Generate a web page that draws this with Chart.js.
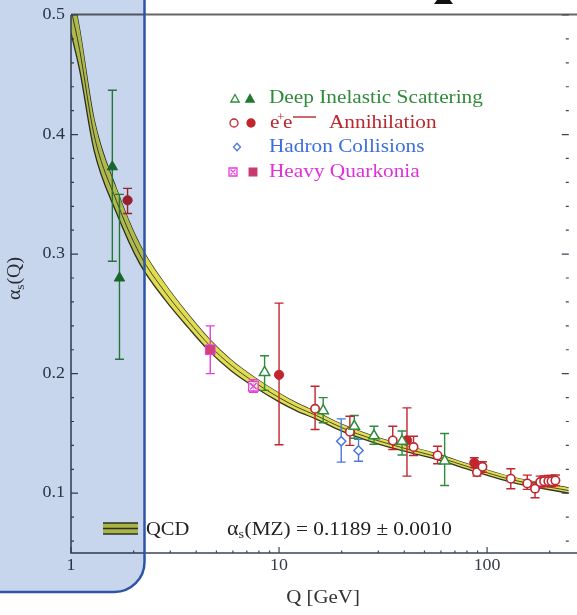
<!DOCTYPE html>
<html>
<head>
<meta charset="utf-8">
<script src="https://cdn.jsdelivr.net/npm/chart.js@4.4.0/dist/chart.umd.min.js"></script>
<style>
  html, body { margin: 0; padding: 0; background: #fff; }
  #wrap { width: 577px; height: 615px; }
</style>
</head>
<body>
<div id="wrap"><canvas id="alphaChart" width="577" height="615"></canvas></div>
<script>
// ---- values ----
// QCD band (alpha_s running), centre and edges
const qcdQ      = [1.0, 1.1, 1.29, 1.65, 2.14, 2.84, 3.66, 4.67, 5.88, 7.59, 10, 12.2, 15.1, 19.9, 28.6, 41.2, 56.1, 86.8, 130, 247];
const qcdCenter = [0.505, 0.471, 0.400, 0.345, 0.300, 0.268, 0.244, 0.223, 0.207, 0.193, 0.180, 0.172, 0.165, 0.155, 0.145, 0.137, 0.131, 0.1205, 0.1115, 0.1022];
const qcdUpper  = [0.525, 0.488, 0.413, 0.355, 0.308, 0.2745, 0.2495, 0.228, 0.2115, 0.197, 0.1836, 0.1753, 0.168, 0.1578, 0.1476, 0.1394, 0.1333, 0.1227, 0.1137, 0.1044];
const qcdLower  = [0.485, 0.454, 0.387, 0.335, 0.292, 0.2615, 0.2385, 0.218, 0.2025, 0.189, 0.1764, 0.1687, 0.162, 0.1522, 0.1424, 0.1346, 0.1287, 0.1183, 0.1093, 0.1000];

// Deep inelastic scattering
const disOpenQ  = [8.52, 16.3, 23.0, 28.6, 39.0, 62.5];
const disOpenA  = [0.201, 0.169, 0.156, 0.148, 0.1435, 0.127];
const disOpenHi = [0.215, 0.180, 0.165, 0.156, 0.152, 0.150];
const disOpenLo = [0.186, 0.159, 0.146, 0.141, 0.132, 0.1065];
const disFillQ  = [1.58, 1.71];
const disFillA  = [0.373, 0.280];
const disFillHi = [0.437, 0.350];
const disFillLo = [0.294, 0.212];

// e+e- annihilation
const eeOpenQ  = [14.9, 21.9, 35.2, 44.3, 57.8, 89.4, 95, 130, 156, 170, 180, 188, 197, 204, 213];
const eeOpenA  = [0.1706, 0.1514, 0.1441, 0.1386, 0.1316, 0.1176, 0.1221, 0.1121, 0.1082, 0.1038, 0.1093, 0.1100, 0.1100, 0.1100, 0.1107];
const eeOpenHi = [0.1895, 0.1644, 0.156, 0.1477, 0.1393, 0.1213, 0.1263, 0.1205, 0.1151, 0.1088, 0.1143, 0.1145, 0.1148, 0.1148, 0.1152];
const eeOpenLo = [0.1533, 0.140, 0.1366, 0.1316, 0.1246, 0.1143, 0.1176, 0.1038, 0.1032, 0.0962, 0.1045, 0.1055, 0.1055, 0.1055, 0.1062];
const eeFillQ  = [1.87, 10, 41.2, 86.8];
const eeFillA  = [0.345, 0.199, 0.1443, 0.1255];
const eeFillHi = [0.355, 0.259, 0.1714, 0.1297];
const eeFillLo = [0.334, 0.1405, 0.1143, 0.1215];

// hadron collisions
const hadQ  = [19.9, 24.1];
const hadA  = [0.1435, 0.1358];
const hadHi = [0.1622, 0.145];
const hadLo = [0.126, 0.1268];

// heavy quarkonia
const hqFillQ  = [4.67];
const hqFillA  = [0.220];
const hqFillHi = [0.240];
const hqFillLo = [0.200];
const hqOpenQ  = [7.53];
const hqOpenA  = [0.1895];
const hqOpenHi = [0.195];
const hqOpenLo = [0.1845];

// axis ticks
const yMajor = [0.1, 0.2, 0.3, 0.4, 0.5];
const yTickLabels = ['0.1', '0.2', '0.3', '0.4', '0.5'];
const yMinor = [0.06, 0.08, 0.12, 0.14, 0.16, 0.18, 0.22, 0.24, 0.26, 0.28, 0.32, 0.34, 0.36, 0.38, 0.42, 0.44, 0.46, 0.48];
const xMajor = [1, 10, 100];
const xTickLabels = ['1', '10', '100'];
const xMinor = [2, 3, 4, 5, 6, 7, 8, 9, 20, 30, 40, 50, 60, 70, 80, 90, 200];

const GREEN = '#2c8c3c', GREEN_FILL = '#1f7a2f', RED = '#c0262e', BLUE = '#4a78de',
      MAGENTA = '#e23fdc', HQ_FILL = '#d2407a', AXIS = '#3c4456';

function pts(qs, as) {
    return qs.map((q, i) => ({ x: q, y: as[i] }));
}

function serif(size) {
    return size + 'px "Liberation Serif", "Times New Roman", serif';
}

// text in the source is slightly stretched sideways
function txt(ctx, s, x, y, size, color, align, sx) {
    sx = sx || 1.12;
    ctx.save();
    ctx.translate(x, y);
    ctx.scale(sx, 1);
    ctx.font = serif(size);
    ctx.fillStyle = color;
    ctx.textAlign = align || 'left';
    ctx.textBaseline = 'middle';
    ctx.fillText(s, 0, 0);
    const w = ctx.measureText(s).width * sx;
    ctx.restore();
    return w;
}

const errorGroups = [
    [disOpenQ, disOpenHi, disOpenLo, GREEN],
    [disFillQ, disFillHi, disFillLo, GREEN],
    [eeOpenQ, eeOpenHi, eeOpenLo, RED],
    [eeFillQ, eeFillHi, eeFillLo, RED],
    [hadQ, hadHi, hadLo, BLUE],
    [hqFillQ, hqFillHi, hqFillLo, MAGENTA],
    [hqOpenQ, hqOpenHi, hqOpenLo, MAGENTA]
];

const plotDecor = {
    id: 'plotDecor',
    beforeDraw(chart) {
        const ctx = chart.ctx;
        ctx.save();
        ctx.fillStyle = '#fff';
        ctx.fillRect(0, 0, chart.width, chart.height);
        ctx.restore();
    },
    afterDatasetDraw(chart, args) {
        // error bars go over the band but under the markers
        if (chart.data.datasets[args.index].label !== 'QCD') return;
        const ctx = chart.ctx, xs = chart.scales.x, ys = chart.scales.y;
        ctx.save();
        ctx.lineWidth = 1.4;
        errorGroups.forEach(([qs, hi, lo, col]) => {
            ctx.strokeStyle = col;
            qs.forEach((q, i) => {
                const px = xs.getPixelForValue(q);
                const yh = ys.getPixelForValue(hi[i]);
                const yl = ys.getPixelForValue(lo[i]);
                ctx.beginPath();
                ctx.moveTo(px, yh); ctx.lineTo(px, yl);
                ctx.moveTo(px - 4.5, yh); ctx.lineTo(px + 4.5, yh);
                ctx.moveTo(px - 4.5, yl); ctx.lineTo(px + 4.5, yl);
                ctx.stroke();
            });
        });
        ctx.restore();
    },
    afterDraw(chart) {
        const ctx = chart.ctx, xs = chart.scales.x, ys = chart.scales.y;
        const a = chart.chartArea;
        ctx.save();

        // frame
        ctx.strokeStyle = '#666';
        ctx.lineWidth = 2;
        ctx.beginPath(); ctx.moveTo(a.left, a.top - 0.5); ctx.lineTo(chart.width, a.top - 0.5); ctx.stroke();
        ctx.strokeStyle = AXIS;
        ctx.lineWidth = 1.5;
        ctx.beginPath();
        ctx.moveTo(a.left, a.top); ctx.lineTo(a.left, a.bottom); ctx.lineTo(chart.width, a.bottom);
        ctx.stroke();

        // y ticks, left and right, pointing inward
        ctx.lineWidth = 1.2;
        yMajor.forEach((v, i) => {
            const py = ys.getPixelForValue(v);
            ctx.beginPath();
            ctx.moveTo(a.left, py); ctx.lineTo(a.left + 7, py);
            ctx.moveTo(a.right, py); ctx.lineTo(a.right - 7, py);
            ctx.stroke();
            txt(ctx, yTickLabels[i], a.left - 6, py, 16, '#353b48', 'right', 1.12);
        });
        yMinor.forEach(v => {
            const py = ys.getPixelForValue(v);
            ctx.beginPath();
            ctx.moveTo(a.left, py); ctx.lineTo(a.left + 3, py);
            ctx.moveTo(a.right, py); ctx.lineTo(a.right - 3, py);
            ctx.stroke();
        });
        // x ticks
        xMajor.forEach((v, i) => {
            const px = xs.getPixelForValue(v);
            ctx.beginPath(); ctx.moveTo(px, a.bottom); ctx.lineTo(px, a.bottom - 6); ctx.stroke();
            txt(ctx, xTickLabels[i], px, a.bottom + 13, 16, '#353b48', 'center', 1.12);
        });
        xMinor.forEach(v => {
            const px = xs.getPixelForValue(v);
            ctx.beginPath(); ctx.moveTo(px, a.bottom); ctx.lineTo(px, a.bottom - 2.5); ctx.stroke();
        });

        // axis titles
        txt(ctx, 'Q [GeV]', 323, 598, 19, '#333', 'center', 1.1);
        ctx.save();
        ctx.translate(20, 300);
        ctx.rotate(-Math.PI / 2);
        ctx.scale(1.1, 1);
        ctx.fillStyle = '#333';
        ctx.textBaseline = 'alphabetic';
        ctx.font = serif(18);
        ctx.fillText('\u03b1', 0, 0);
        let w = ctx.measureText('\u03b1').width;
        ctx.font = serif(12);
        ctx.fillText('s', w, 4);
        w += ctx.measureText('s').width;
        ctx.font = serif(18);
        ctx.fillText('(Q)', w, 0);
        ctx.restore();

        // legend
        const marker = (kind, x, y, col, fill) => {
            ctx.save();
            ctx.strokeStyle = col;
            ctx.fillStyle = fill || '#fff';
            ctx.lineWidth = 1.3;
            ctx.beginPath();
            if (kind === 'tri') {
                ctx.moveTo(x, y - 4.5); ctx.lineTo(x + 4.2, y + 3); ctx.lineTo(x - 4.2, y + 3); ctx.closePath();
            } else if (kind === 'circ') {
                ctx.arc(x, y, 4, 0, Math.PI * 2);
            } else if (kind === 'dia') {
                ctx.moveTo(x, y - 3.8); ctx.lineTo(x + 3.5, y); ctx.lineTo(x, y + 3.8); ctx.lineTo(x - 3.5, y); ctx.closePath();
            } else if (kind === 'sq') {
                ctx.rect(x - 3.8, y - 3.8, 7.6, 7.6);
            }
            if (fill) ctx.fill();
            ctx.stroke();
            if (kind === 'sqx') {
                ctx.rect(x - 4, y - 4, 8, 8);
                ctx.moveTo(x - 2.5, y - 2.5); ctx.lineTo(x + 2.5, y + 2.5);
                ctx.moveTo(x + 2.5, y - 2.5); ctx.lineTo(x - 2.5, y + 2.5);
                ctx.stroke();
            }
            ctx.restore();
        };
        marker('tri', 235, 99, GREEN);
        marker('tri', 250, 99, GREEN_FILL, GREEN_FILL);
        txt(ctx, 'Deep Inelastic Scattering', 269, 98, 19, '#2f8a3a');
        marker('circ', 234, 123, RED);
        marker('circ', 251, 123, RED, RED);
        txt(ctx, 'e', 270, 123, 19, '#b8282e');
        txt(ctx, '+', 277, 118, 12, '#b8282e');
        txt(ctx, 'e', 283, 123, 19, '#b8282e');
        ctx.strokeStyle = '#b8282e';
        ctx.lineWidth = 1.4;
        ctx.beginPath(); ctx.moveTo(293, 117); ctx.lineTo(316, 117); ctx.stroke();
        txt(ctx, 'Annihilation', 329, 123, 19, '#b8282e');
        marker('dia', 237, 147, BLUE);
        txt(ctx, 'Hadron Collisions', 269, 147, 19, '#3c6ee0');
        marker('sqx', 233, 172, MAGENTA);
        marker('sq', 253, 172, '#c8386c', '#c8386c');
        txt(ctx, 'Heavy Quarkonia', 269, 172, 19, '#e030d8');

        // QCD band key and alpha_s(MZ)
        ctx.fillStyle = '#d9d54a';
        ctx.fillRect(103, 523, 35, 11);
        ctx.strokeStyle = '#3a3a2a';
        ctx.lineWidth = 1.3;
        [523, 528.5, 534].forEach(yy => {
            ctx.beginPath(); ctx.moveTo(103, yy); ctx.lineTo(138, yy); ctx.stroke();
        });
        txt(ctx, 'QCD', 146, 530, 19, '#222', 'left', 1.08);
        let cx = 227;
        cx += txt(ctx, '\u03b1', cx, 530, 20, '#222', 'left', 1.1);
        cx += txt(ctx, 's', cx, 535, 13, '#222', 'left', 1.1);
        txt(ctx, '(MZ) = 0.1189 \u00b1 0.0010', cx + 0.5, 530, 19, '#222', 'left', 1.12);

        // little black shape cut off at the top edge
        ctx.fillStyle = '#111';
        ctx.beginPath();
        ctx.moveTo(437, 0); ctx.lineTo(450, 0); ctx.lineTo(453, 4); ctx.lineTo(434, 4); ctx.closePath();
        ctx.fill();

        // blue highlight box over the low-Q region (tints what is under it)
        const r = 30, rx = 144.5, by = 592;
        const box = () => {
            ctx.beginPath();
            ctx.moveTo(-5, -5);
            ctx.lineTo(rx, -5);
            ctx.lineTo(rx, by - r);
            ctx.arcTo(rx, by, rx - r, by, r);
            ctx.lineTo(-5, by);
            ctx.closePath();
        };
        ctx.save();
        ctx.globalCompositeOperation = 'multiply';
        box();
        ctx.fillStyle = 'rgb(200, 214, 237)';
        ctx.fill();
        ctx.restore();
        box();
        ctx.strokeStyle = '#2d55a5';
        ctx.lineWidth = 2.5;
        ctx.stroke();

        ctx.restore();
    }
};

const bandLine = { showLine: true, pointRadius: 0, cubicInterpolationMode: 'monotone' };

new Chart(document.getElementById('alphaChart'), {
    type: 'scatter',
    data: {
        datasets: [
            Object.assign({ label: 'QCD upper', data: pts(qcdQ, qcdUpper), borderColor: '#353525', borderWidth: 1.3, order: 12 }, bandLine),
            Object.assign({ label: 'QCD lower', data: pts(qcdQ, qcdLower), borderColor: '#353525', borderWidth: 1.3, order: 11,
                            fill: '-1', backgroundColor: '#e1dd52' }, bandLine),
            Object.assign({ label: 'QCD', data: pts(qcdQ, qcdCenter), borderColor: '#4a4a30', borderWidth: 1, order: 10 }, bandLine),
            { label: 'DIS open', data: pts(disOpenQ, disOpenA), pointStyle: 'triangle', pointRadius: 6,
              backgroundColor: '#fff', borderColor: GREEN, borderWidth: 1.5 },
            { label: 'DIS filled', data: pts(disFillQ, disFillA), pointStyle: 'triangle', pointRadius: 6,
              backgroundColor: GREEN_FILL, borderColor: GREEN_FILL, borderWidth: 1 },
            { label: 'ee open', data: pts(eeOpenQ, eeOpenA), pointStyle: 'circle', pointRadius: 4.2,
              backgroundColor: '#fff', borderColor: RED, borderWidth: 1.6 },
            { label: 'ee filled', data: pts(eeFillQ, eeFillA), pointStyle: 'circle', pointRadius: 4.6,
              backgroundColor: RED, borderColor: RED, borderWidth: 1 },
            { label: 'hadron', data: pts(hadQ, hadA), pointStyle: 'rectRot', pointRadius: 4.6,
              backgroundColor: '#fff', borderColor: BLUE, borderWidth: 1.5 },
            { label: 'HQ filled', data: pts(hqFillQ, hqFillA), pointStyle: 'rect', pointRadius: 6.8,
              backgroundColor: HQ_FILL, borderColor: MAGENTA, borderWidth: 1 },
            { label: 'HQ open x', data: pts(hqOpenQ, hqOpenA), pointStyle: 'crossRot', pointRadius: 4.5,
              borderColor: MAGENTA, borderWidth: 1.2 },
            { label: 'HQ open', data: pts(hqOpenQ, hqOpenA), pointStyle: 'rect', pointRadius: 6.8,
              backgroundColor: 'rgba(255,255,255,0.6)', borderColor: MAGENTA, borderWidth: 1.4 }
        ]
    },
    options: {
        responsive: false,
        animation: false,
        events: [],
        layout: { padding: { left: 71, right: 1, top: 15, bottom: 62 } },
        scales: {
            x: { type: 'logarithmic', min: 1, max: 247, display: false },
            y: { type: 'linear', min: 0.05, max: 0.5, display: false }
        },
        plugins: {
            legend: { display: false },
            tooltip: { enabled: false }
        }
    },
    plugins: [plotDecor]
});
</script>
</body>
</html>
